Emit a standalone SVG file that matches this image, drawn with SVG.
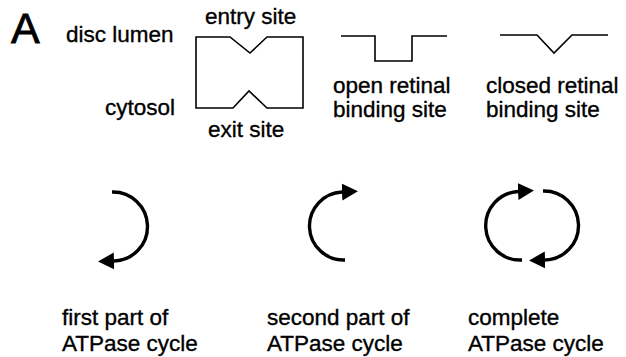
<svg xmlns="http://www.w3.org/2000/svg" width="626" height="357" viewBox="0 0 626 357">
<style>
text{font-family:"Liberation Sans",Arial,sans-serif;font-size:22.5px;fill:#000;stroke:#000;stroke-width:0.35}
.big{font-size:43px;stroke-width:0.8}
.ln{fill:none;stroke:#000;stroke-width:1.6;stroke-linejoin:miter}
.arc{fill:none;stroke:#000;stroke-width:3.4}
</style>
<defs>
<marker id="ah" markerUnits="userSpaceOnUse" markerWidth="16" markerHeight="18" refX="0" refY="8.5" orient="auto" viewBox="0 0 16 17">
<path d="M0,0 L16,8.5 L0,17 z" fill="#000"/>
</marker>
</defs>
<rect width="626" height="357" fill="#fff"/>
<g id="label-A"><text class="big" x="11" y="43">A</text></g>
<g id="disc-lumen"><text x="66" y="42">disc lumen</text></g>
<g id="cytosol"><text x="105" y="115">cytosol</text></g>
<g id="transporter">
<path class="ln" d="M196,37 H230 L250,53 L267,37 H303 V108 H267 L249,91 L233,108 H196 Z"/>
<text x="205" y="24">entry site</text>
<text x="208" y="137">exit site</text>
</g>
<g id="open-site">
<path class="ln" d="M341,36 H375 V61 H412 V36 H447"/>
<text x="333" y="93">open retinal</text>
<text x="333" y="117">binding site</text>
</g>
<g id="closed-site">
<path class="ln" d="M500,35 H537 L554,53 L572,35 H608"/>
<text x="486" y="93">closed retinal</text>
<text x="486" y="117">binding site</text>
</g>
<g id="connectors">
<path class="arc" d="M112,192 A34.5,34.5 0 0 1 114,261" marker-end="url(#ah)"/>
<path class="arc" d="M345,260 A34,34 0 0 1 342,192" marker-end="url(#ah)"/>
<path class="arc" d="M522,260 A34,34 0 0 1 518,191.5" marker-end="url(#ah)"/>
<path class="arc" d="M543,191 A34,34 0 0 1 545,260" marker-end="url(#ah)"/>
</g>
<g id="first-part"><text x="62" y="325">first part of</text><text x="62" y="351">ATPase cycle</text></g>
<g id="second-part"><text x="267" y="325">second part of</text><text x="267" y="351">ATPase cycle</text></g>
<g id="complete"><text x="468" y="325">complete</text><text x="468" y="351">ATPase cycle</text></g>
</svg>
